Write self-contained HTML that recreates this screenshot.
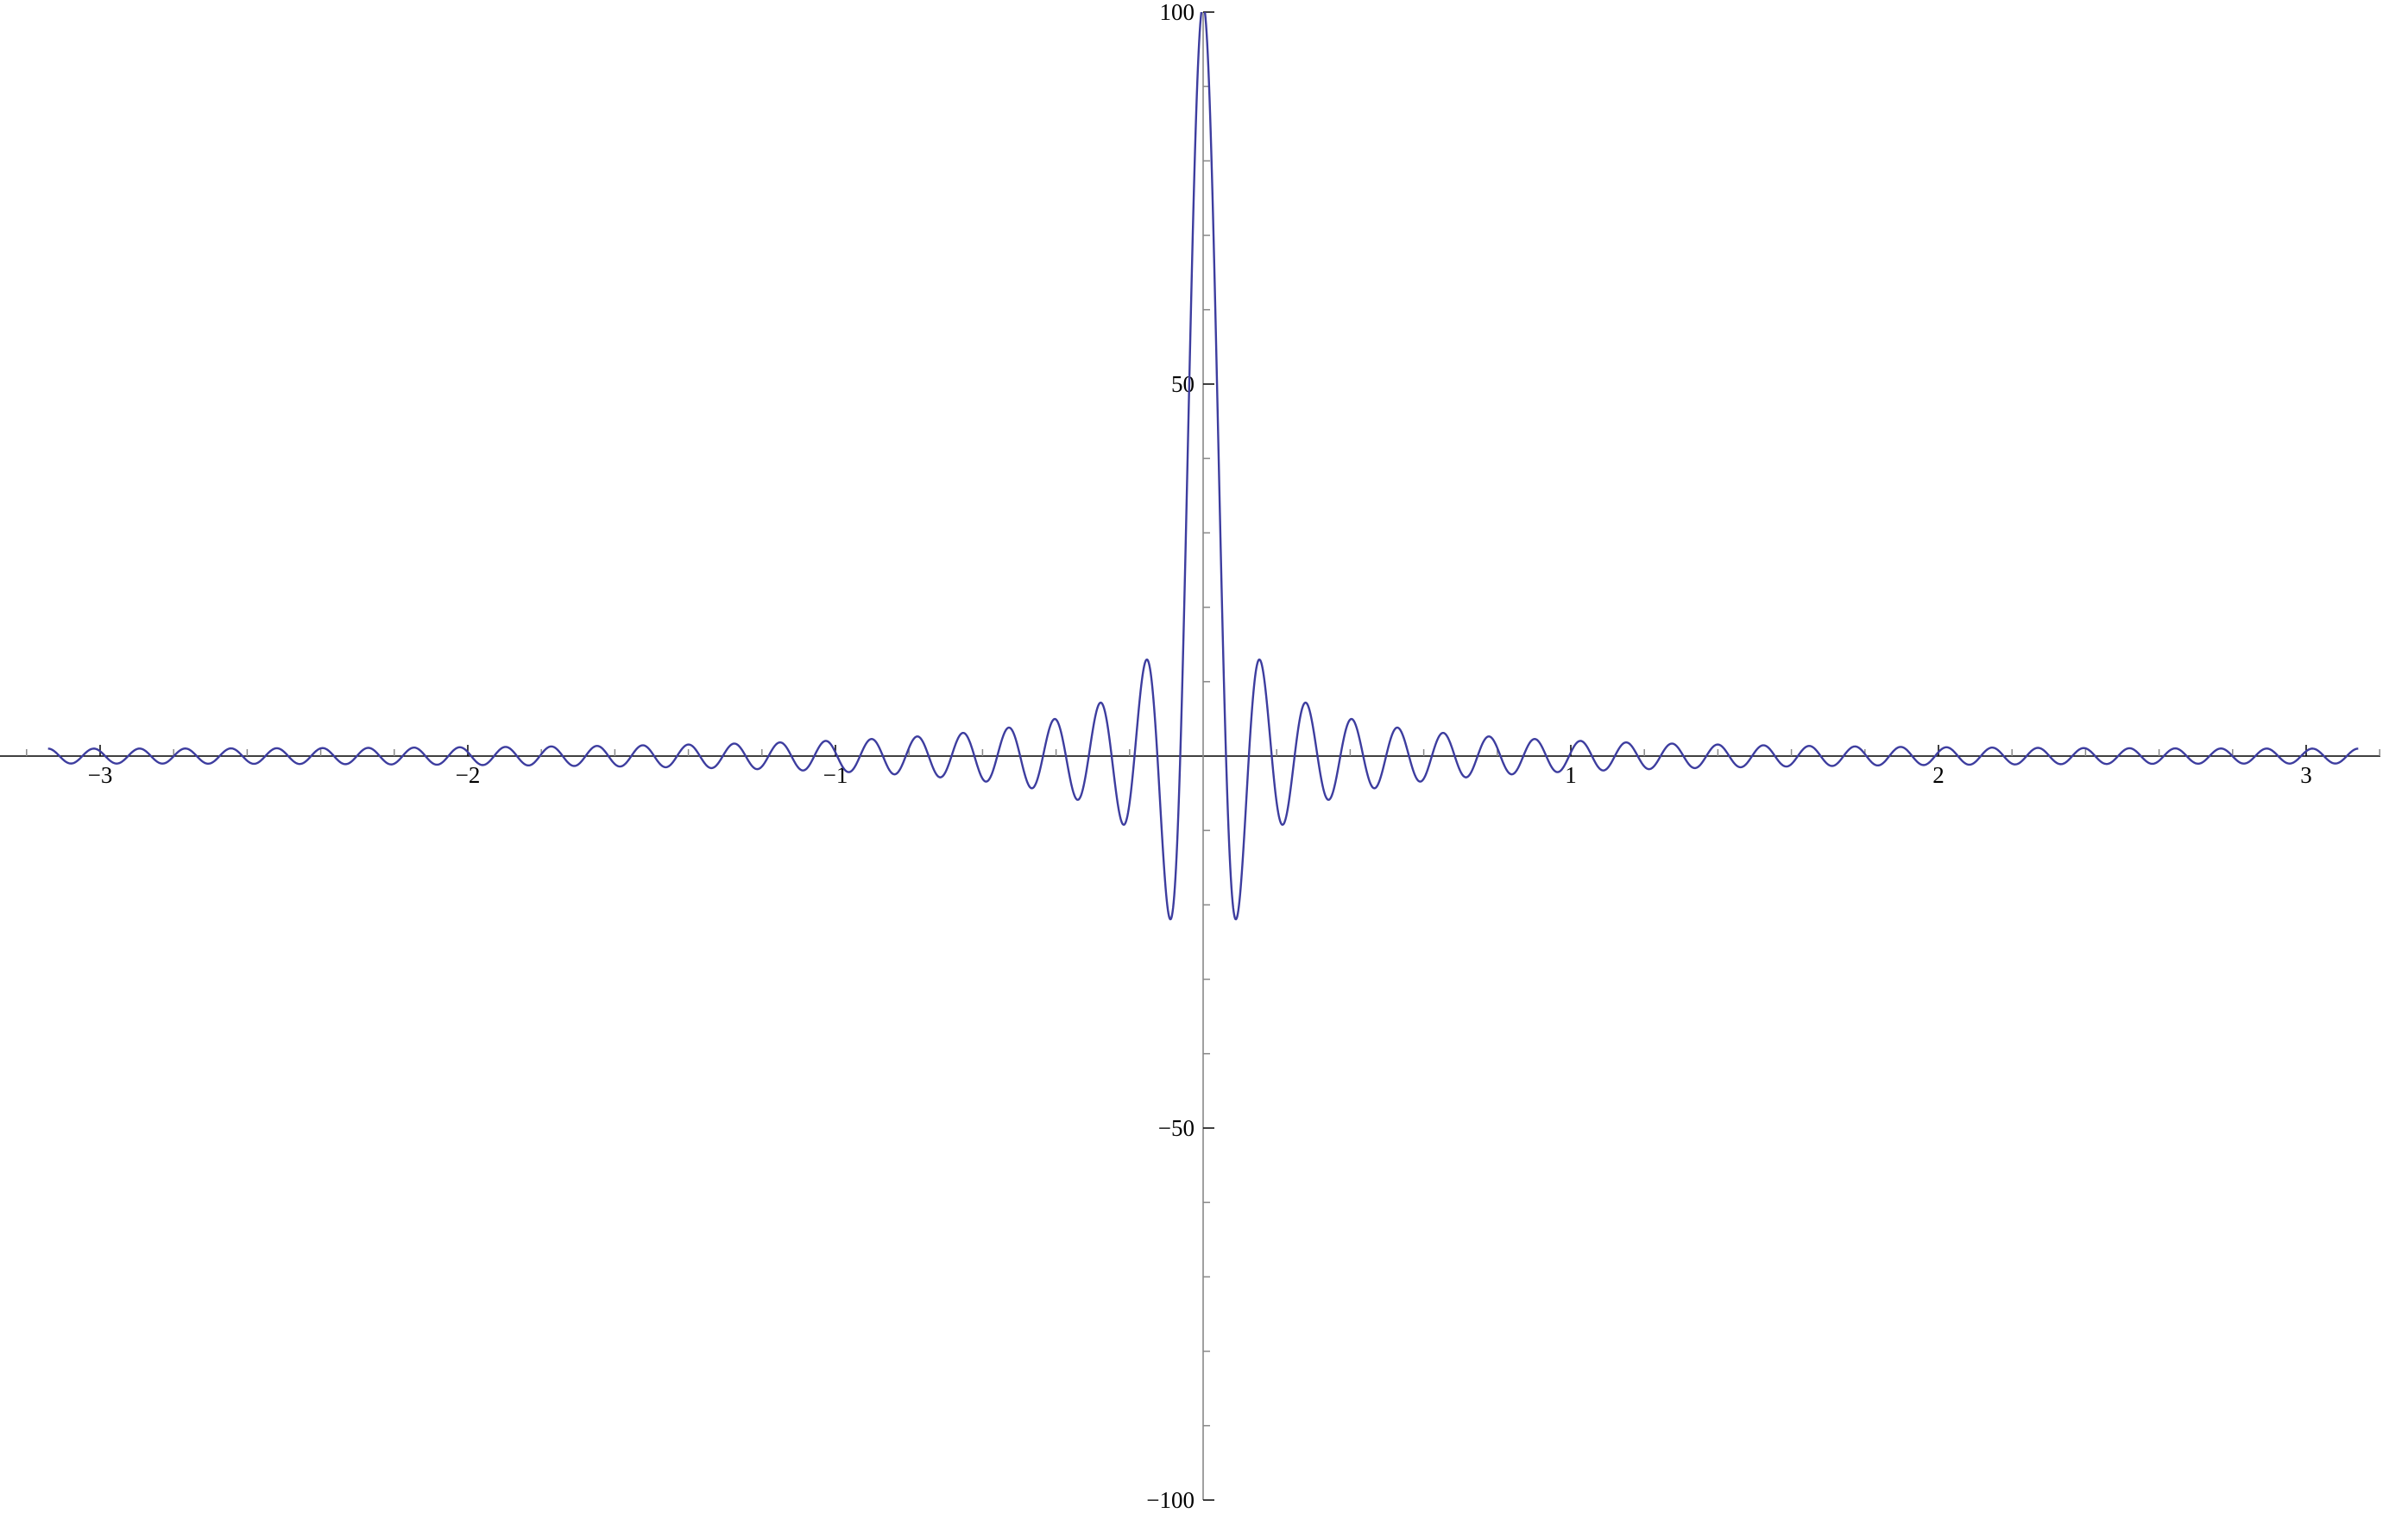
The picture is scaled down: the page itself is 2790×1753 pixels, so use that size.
<!DOCTYPE html>
<html><head><meta charset="utf-8"><style>
html,body{margin:0;padding:0;background:#fff;}
svg{display:block;}
text{font-family:"Liberation Serif",serif;font-size:27px;fill:#000;}
</style></head><body>
<svg id="chart" width="2790" height="1753" viewBox="0 0 2790 1753" xmlns="http://www.w3.org/2000/svg">
<defs><clipPath id="plotClip"><rect x="0" y="14" width="2790" height="1724"/></clipPath></defs>
<g id="axes"></g>
<g id="series" clip-path="url(#plotClip)"></g>
</svg>
<script>
// Cosine-series coefficients: y(x) = sum coefficients[k] * cos(k x)
const coefficients = [1,2,2,2,2,2,2,2,2,2,2,2,2,2,2,2,2,2,2,2,2,2,2,2,2,2,2,2,2,2,2,2,2,2,2,2,2,2,2,2,2,2,2,2,2,2,2,2,2,2,2];
const xDomain = [-3.14159, 3.14159];
const yDomain = [-100, 100];
const xMajorTicks = [-3,-2,-1,1,2,3];
const xTickLabels = ["\u22123","\u22122","\u22121","1","2","3"];
const yMajorTicks = [-100,-50,50,100];
const yTickLabels = ["\u2212100","\u221250","50","100"];

const NS="http://www.w3.org/2000/svg";
const X0=1394, XS=426, Y0=876, YS=8.62;
function sx(v){return X0+v*XS;}
function sy(v){return Y0-v*YS;}
function mk(tag,attrs,parent){const e=document.createElementNS(NS,tag);for(const k in attrs)e.setAttribute(k,attrs[k]);parent.appendChild(e);return e;}
const axes=document.getElementById('axes');
const series=document.getElementById('series');

let l=mk('line',{x1:0,y1:sy(0),x2:2758,y2:sy(0),stroke:'#000','stroke-width':1.6},axes);


l=mk('line',{x1:sx(0),y1:sy(yDomain[1]),x2:sx(0),y2:sy(yDomain[0]),stroke:'#888','stroke-width':1.6},axes);



// x minor ticks every 0.2
for(let i=-16;i<=16;i++){
  const v=i*0.2; if(Math.abs(v)<1e-9) continue;
  const major=Math.abs(v-Math.round(v))<1e-9;
  const t=mk('line',{x1:sx(v),x2:sx(v),y1:sy(0),y2:sy(0)-(major?13:8),stroke:major?'#000':'#888','stroke-width':1.5},axes);
  
  
}
xMajorTicks.forEach((v,i)=>{
  const t=mk('text',{x:sx(v),y:907,'text-anchor':'middle'},axes);
  t.textContent=xTickLabels[i];
  
  
});
for(let v=-100;v<=100;v+=10){
  if(v===0) continue;
  const major=v%50===0;
  const t=mk('line',{x1:sx(0),x2:sx(0)+(major?13:8),y1:sy(v),y2:sy(v),stroke:major?'#000':'#888','stroke-width':1.5},axes);
  
  
}
yMajorTicks.forEach((v,i)=>{
  const t=mk('text',{x:1384,y:sy(v)+9,'text-anchor':'end'},axes);
  t.textContent=yTickLabels[i];
  
  
});

// curve
const N=4000;let d='';
for(let i=0;i<=N;i++){
  const x=xDomain[0]+(xDomain[1]-xDomain[0])*i/N;
  let y=0;for(let k=0;k<coefficients.length;k++)y+=coefficients[k]*Math.cos(k*x);
  d+=(i?'L':'M')+sx(x).toFixed(2)+' '+sy(y).toFixed(2);
}
const p=mk('path',{d:d,fill:'none',stroke:'#3d3d9f','stroke-width':2.4,'stroke-linejoin':'round'},series);


</script>
</body></html>
